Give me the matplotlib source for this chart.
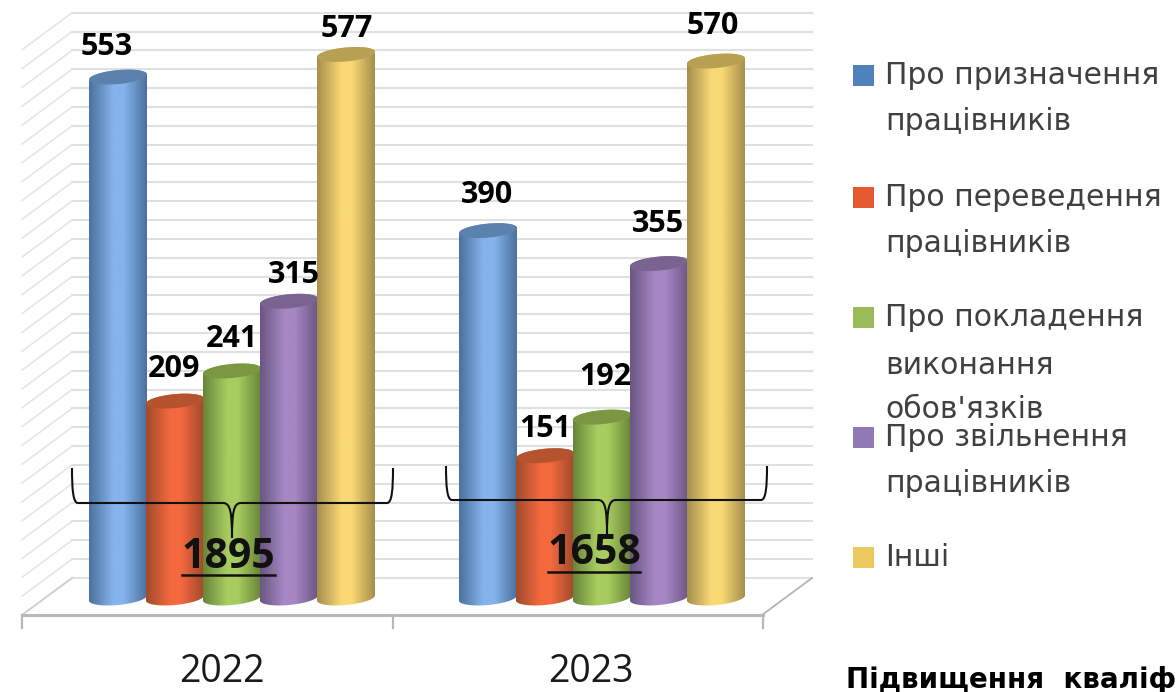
import numpy as np
import matplotlib
matplotlib.use("Agg")
import matplotlib.pyplot as plt
from matplotlib.colors import LinearSegmentedColormap
from matplotlib.path import Path
from matplotlib.patches import PathPatch, Rectangle
from matplotlib.transforms import Affine2D

plt.rcParams['font.family'] = ['Open Sans', 'DejaVu Sans']

# data
years = ['2022', '2023']
totals = ['1895', '1658']
pryznachennia = [553, 390]
perevedennia = [209, 151]
pokladennia = [241, 192]
zvilnennia = [315, 355]
inshi = [577, 570]
series = [pryznachennia, perevedennia, pokladennia, zvilnennia, inshi]
grid_values = list(range(0, 620, 20))

# (edge, centre, cap) colours for each cylinder
shades = [('#4a719f', '#86b3ec', '#5a82ad'),
          ('#a04a2c', '#f4693e', '#b5532f'),
          ('#688538', '#a8cc60', '#7b9741'),
          ('#6a5683', '#a687c4', '#7a6390'),
          ('#a68e4c', '#fad874', '#b8a052')]
legend_colors = ['#4f81bd', '#e4592f', '#9bbb59', '#9079b6', '#ecc95f']

# layout, pixels
W, H = 1176, 692
PX_PER_UNIT = 0.942
BASE_Y = 598
GROUP_STEP = 370
GROUP_X = 232
BAR_STEP = 57
RX, RY = 29, 7
TILT = -0.09

fig = plt.figure(figsize=(W / 100, H / 100), dpi=100)
ax = fig.add_axes([0, 0, 1, 1])
ax.set_xlim(-GROUP_X / GROUP_STEP, (W - GROUP_X) / GROUP_STEP)
ax.set_ylim((BASE_Y - H) / PX_PER_UNIT, BASE_Y / PX_PER_UNIT)
ax.axis('off')

# pixel coordinates, origin top left, for the decoration
pix = Affine2D().scale(1, -1).translate(0, H)

# back wall and side wall, 20 units apart
for v in grid_values:
    yb = 578 - v * PX_PER_UNIT
    ax.plot([72, 812], [yb, yb], color='#e0e0e0', lw=1.5, transform=pix, zorder=1)
    ax.plot([72, 22], [yb, yb + 37], color='#e6e6e6', lw=1.2, transform=pix, zorder=1)

# floor
ax.plot([72, 22], [578, 615], color='#d0d0d0', lw=1.3, transform=pix, zorder=2)
ax.plot([812, 762], [578, 615], color='#b4b4b4', lw=1.3, transform=pix, zorder=2)
ax.plot([22, 763], [615, 615], color='#b8b8b8', lw=2.2, transform=pix, zorder=2)
for x in [22, 393, 763]:
    ax.plot([x, x], [615, 628], color='#b8b8b8', lw=1.6, transform=pix, zorder=2)


def ellipse_xy(cx, v, t):
    # ellipse in pixels around the bar end, given back in data units
    x = cx + RX * np.cos(t) / GROUP_STEP
    y = v + (RY * np.sin(t) - TILT * RX * np.cos(t)) / PX_PER_UNIT
    return x, y


def cylinder(cx, v, colors, z):
    edge, mid, cap = colors
    tb = np.linspace(np.pi, 2 * np.pi, 40)
    tt = np.linspace(0, np.pi, 40)
    xb, yb = ellipse_xy(cx, 0, tb)
    xt, yt = ellipse_xy(cx, v, tt)
    body = Path(np.column_stack([np.r_[xb, xt, xb[0]], np.r_[yb, yt, yb[0]]]), closed=True)
    cmap = LinearSegmentedColormap.from_list('c', [(0, edge), (0.42, mid), (0.6, mid), (1, edge)])
    half = RX / GROUP_STEP
    im = ax.imshow(np.linspace(0, 1, 256)[None, :], cmap=cmap, aspect='auto',
                   extent=(cx - half, cx + half, -20, v + 20), zorder=z, interpolation='bilinear')
    im.set_clip_path(body, transform=ax.transData)
    t = np.linspace(0, 2 * np.pi, 80)
    xc, yc = ellipse_xy(cx, v, t)
    ax.fill(xc, yc, color=cap, lw=0, zorder=z + 0.1)


for g in range(len(years)):
    for s, vals in enumerate(series):
        cylinder(g + (s - 2) * BAR_STEP / GROUP_STEP, vals[g], shades[s], 3 + g + s * 0.2)

# value labels, offset from the top of each bar in pixels
label_dx = [[-10, 0, 1, 6, 2], [0, 1, 4, 0, -2]]
label_dy = [[32, 34, 34, 28, 27], [38, 29, 42, 42, 37]]
for g in range(len(years)):
    for s, vals in enumerate(series):
        ax.annotate(str(vals[g]), xy=(g + (s - 2) * BAR_STEP / GROUP_STEP, vals[g]),
                    xytext=(label_dx[g][s] - 1, label_dy[g][s] - 2), textcoords='offset pixels',
                    ha='center', va='center', fontsize=22, fontweight='bold', color='black', zorder=10)

# year labels
for name, x in zip(years, [222, 591]):
    ax.text(x, 672, name, transform=pix, ha='center', va='center', fontsize=27, color='#1a1a1a', zorder=10)


def brace(x0, x1, xm, y0, y1, tip):
    verts = [(x0, y0), (x0, y1 - 14), (x0 + 1, y1), (x0 + 6, y1),
             (xm - 9, y1), (xm - 2, y1), (xm, y1 + 8), (xm, tip),
             (xm, y1 + 8), (xm + 2, y1), (xm + 9, y1),
             (x1 - 6, y1), (x1 - 1, y1), (x1, y1 - 14), (x1, y0)]
    codes = [Path.MOVETO, Path.CURVE4, Path.CURVE4, Path.CURVE4,
             Path.LINETO, Path.CURVE4, Path.CURVE4, Path.CURVE4,
             Path.CURVE4, Path.CURVE4, Path.CURVE4,
             Path.LINETO, Path.CURVE4, Path.CURVE4, Path.CURVE4]
    ax.add_patch(PathPatch(Path(verts, codes), fc='none', ec='#111111', lw=1.5, transform=pix, zorder=11))


brace(72, 393, 232, 468, 503, 538)
brace(446, 767, 607, 466, 500, 535)

# group totals
for name, x, y, x0, x1, yu in zip(totals, [228, 594], [558, 554], [182, 548], [275, 640], [575, 572]):
    ax.text(x, y, name, transform=pix, ha='center', va='center', fontsize=29.5, fontweight='bold',
            color='#111111', zorder=12)
    ax.plot([x0, x1], [yu, yu], color='#111111', lw=1.8, transform=pix, zorder=12)

# legend
legend_lines = [['Про призначення', 'працівників'],
                ['Про переведення', 'працівників'],
                ['Про покладення', 'виконання', "обов'язків"],
                ['Про звільнення', 'працівників'],
                ['Інші']]
legend_y = [[75, 122], [197, 244], [317, 366, 409], [437, 484], [557]]
for lines, ys, c in zip(legend_lines, legend_y, legend_colors):
    ax.add_patch(Rectangle((853, ys[0] - 10), 21, 21, fc=c, ec='none', transform=pix, zorder=5))
    for line, y in zip(lines, ys):
        ax.text(885, y, line, transform=pix, ha='left', va='center', fontsize=21.5,
                family='DejaVu Sans', color='#404040', zorder=5)

# heading of the next chart, the picture shows only its start
ax.text(846, 680, 'Підвищення  кваліф', transform=pix, ha='left', va='center',
        fontsize=20, family='DejaVu Sans', fontweight='bold', color='black', zorder=5)

fig.savefig('out.png', dpi=100)
plt.close()
